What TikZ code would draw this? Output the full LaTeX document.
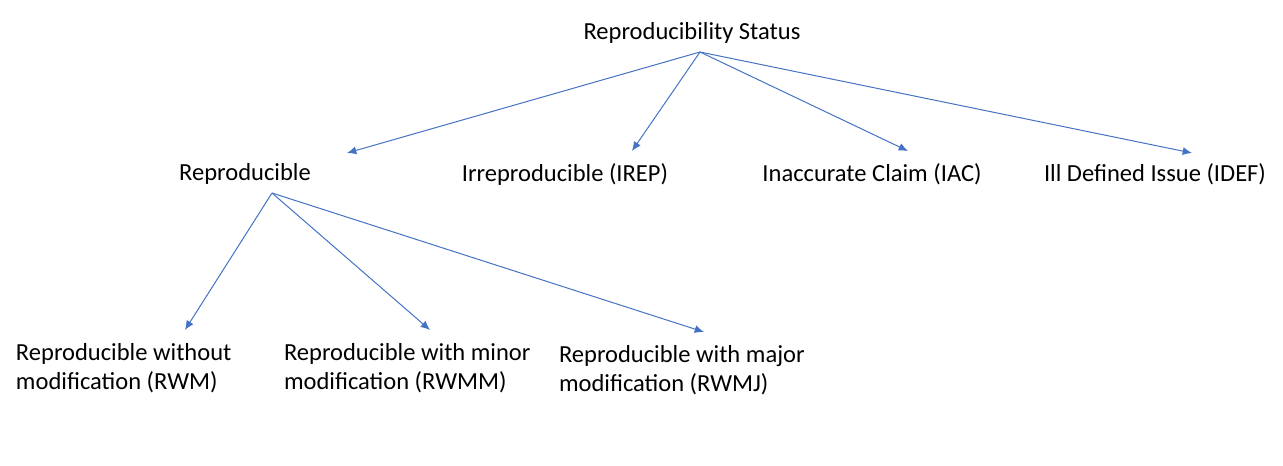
\documentclass[tikz,border=0pt]{standalone}
\usepackage{fontspec}
\setmainfont{Carlito}
\usepackage{xcolor}
\usetikzlibrary{arrows.meta,positioning,calc}
\definecolor{linkblue}{HTML}{4472C4}
\tikzset{
	lbl/.style={inner sep=0pt, outer sep=0pt, font=\fontsize{18.4pt}{21.75pt}\selectfont},
	lbl2/.style={lbl, align=left, anchor=west},
	link/.style={draw=linkblue, line width=0.75pt, -{Latex[length=7pt, width=6pt]}},
}
\begin{document}
\begin{tikzpicture}[x=0.75pt, y=-0.75pt]
	\useasboundingbox (0,0) rectangle (1283,465);
	% root and first level
	\node[lbl] at (692,33) (root) {Reproducibility Status};
	\node[lbl] at (245,174) (rep) {Reproducible};
	\node[lbl] at (565,174) (irep) {Irreproducible (IREP)};
	\node[lbl] at (872,174) (iac) {Inaccurate Claim (IAC)};
	\node[lbl] at (1155,174) (idef) {Ill Defined Issue (IDEF)};
	% second level
	\node[lbl2] at (16,368) (rwm) {Reproducible without\\modification (RWM)};
	\node[lbl2] at (284,368) (rwmm) {Reproducible with minor\\modification (RWMM)};
	\node[lbl2] at (559,370) (rwmj) {Reproducible with major\\modification (RWMJ)};
	% connector ends
	\coordinate (rootout) at (700,52);
	\coordinate (repout) at (272,193);
	\coordinate (repin) at (347,153);
	\coordinate (irepin) at (632,151);
	\coordinate (iacin) at (908,151);
	\coordinate (idefin) at (1192,153);
	\coordinate (rwmin) at (185,330);
	\coordinate (rwmmin) at (430,330);
	\coordinate (rwmjin) at (704,332);
	\draw[link] (rootout) -- (repin);
	\draw[link] (rootout) -- (irepin);
	\draw[link] (rootout) -- (iacin);
	\draw[link] (rootout) -- (idefin);
	\draw[link] (repout) -- (rwmin);
	\draw[link] (repout) -- (rwmmin);
	\draw[link] (repout) -- (rwmjin);
\end{tikzpicture}
\end{document}
